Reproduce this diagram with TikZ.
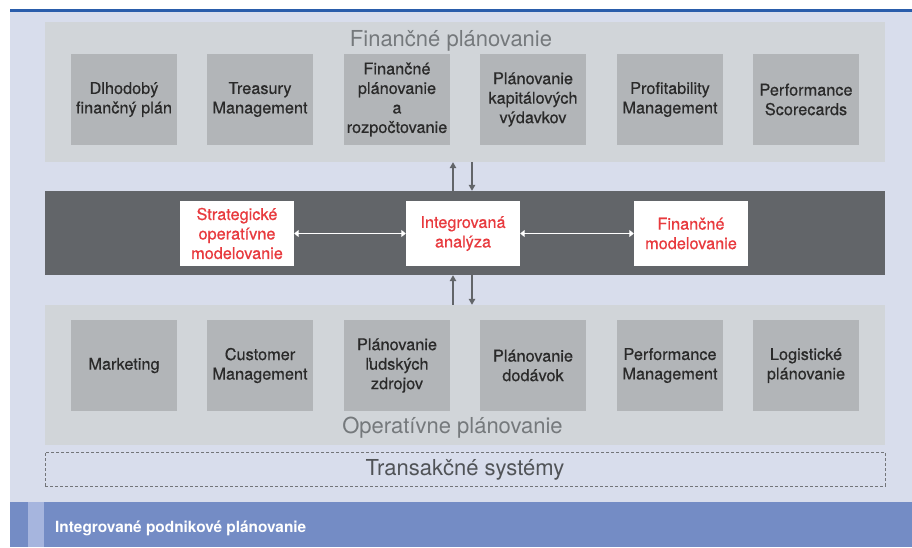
\documentclass[tikz,border=0pt]{standalone}
\usepackage{fontspec}
\setmainfont{TeX Gyre Heros}
\newfontfamily\medfont[FakeBold=0.5]{TeX Gyre Heros}
\usetikzlibrary{arrows.meta,calc}
\definecolor{lav}{HTML}{D8DDEC}
\definecolor{panelgray}{HTML}{D1D5D9}
\definecolor{boxgray}{HTML}{B2B5B8}
\definecolor{bandgray}{HTML}{626569}
\definecolor{redtxt}{HTML}{E83A3E}
\definecolor{blueline}{HTML}{2A5DAB}
\definecolor{bottomblue}{HTML}{748CC5}
\definecolor{stripblue}{HTML}{A6B5DE}
\definecolor{hdrgray}{HTML}{75797C}
\definecolor{trgray}{HTML}{505357}
\definecolor{boxtxt}{HTML}{2A2A2A}
\tikzset{
  panel/.style={fill=panelgray, inner sep=0, minimum width=840, minimum height=140},
  gbox/.style={fill=boxgray, inner sep=0, minimum width=106, minimum height=91, align=center,
    text=boxtxt, font=\medfont\fontsize{16.3}{19.5}\selectfont},
  rbox/.style={fill=white, inner sep=0, minimum width=114, minimum height=65, align=center,
    text=redtxt, font=\medfont\fontsize{16.3}{19.5}\selectfont},
  hdr/.style={anchor=base, inner sep=0, text=hdrgray, font=\fontsize{22}{26}\selectfont},
  varr/.style={draw=bandgray, line width=1.3pt, -{Triangle[length=6pt,width=6.5pt]}},
  harr/.style={draw=white, line width=1pt, {Triangle[length=4.5pt,width=7pt]}-{Triangle[length=4.5pt,width=7pt]}}
}
\begin{document}
\begin{tikzpicture}[x=1pt,y=-1pt]
\useasboundingbox (0,0) rectangle (912,547);
\fill[white] (0,0) rectangle (912,547);
\fill[lav] (10,9) rectangle (912,502);
\fill[blueline] (10,9) rectangle (912,12);
\fill[bottomblue] (10,502) rectangle (912,547);
\fill[stripblue] (28,502) rectangle (44,547);

% top panel
\node[panel] (fin) at (465,92) {};
\node[hdr] (finh) at (451,46) {Finančné plánovanie};
\node[gbox] (f1) at (124,99.5) {Dlhodobý\\finančný plán};
\node[gbox] (f2) at (260,99.5) {Treasury\\Management};
\node[gbox] (f3) at (397,99.5) {Finančné\\plánovanie\\a\\rozpočtovanie};
\node[gbox] (f4) at (533,99.5) {Plánovanie\\kapitálových\\výdavkov};
\node[gbox] (f5) at (670,99.5) {Profitability\\Management};
\node[gbox] (f6) at (806,99.5) {Performance\\Scorecards};

% dark band
\node[fill=bandgray, inner sep=0, minimum width=840, minimum height=84] (band) at (465,233) {};
\node[rbox] (sm) at (237,233.5) {Strategické\\operatívne\\modelovanie};
\node[rbox] (ia) at (463,233.5) {Integrovaná\\analýza};
\node[rbox] (fm) at (691,233.5) {Finančné\\modelovanie};
\draw[harr] (sm.east) -- (ia.west);
\draw[harr] (ia.east) -- (fm.west);

% bottom panel
\node[panel] (op) at (465,375) {};
\node[hdr] (oph) at (452.5,433) {Operatívne plánovanie};
\node[gbox] (o1) at (124,365.5) {Marketing};
\node[gbox] (o2) at (260,365.5) {Customer\\Management};
\node[gbox] (o3) at (397,365.5) {Plánovanie\\ľudských\\zdrojov};
\node[gbox] (o4) at (533,365.5) {Plánovanie\\dodávok};
\node[gbox] (o5) at (670,365.5) {Performance\\Management};
\node[gbox] (o6) at (806,365.5) {Logistické\\plánovanie};

% vertical arrows
\draw[varr] ($(band.north -| ia.north)+(-10,0)$) -- ($(fin.south -| ia.north)+(-10,0)$);
\draw[varr] ($(fin.south -| ia.north)+(9,0)$) -- ($(band.north -| ia.north)+(9,0)$);
\draw[varr] ($(op.north -| ia.north)+(-10,0)$) -- ($(band.south -| ia.north)+(-10,0)$);
\draw[varr] ($(band.south -| ia.north)+(9,0)$) -- ($(op.north -| ia.north)+(9,0)$);

% transaction systems
\node[draw=trgray!80, dash pattern=on 3pt off 2pt, line width=0.8pt, inner sep=0,
  minimum width=840, minimum height=34] (ts) at (465,469) {};
\node[hdr, text=trgray] (tsl) at (465,475) {Transakčné systémy};

% footer
\node[anchor=base west, inner sep=0, text=white, font=\bfseries\fontsize{15.4}{18}\selectfont] (foot) at (55,532.5) {Integrované podnikové plánovanie};
\end{tikzpicture}
\end{document}
